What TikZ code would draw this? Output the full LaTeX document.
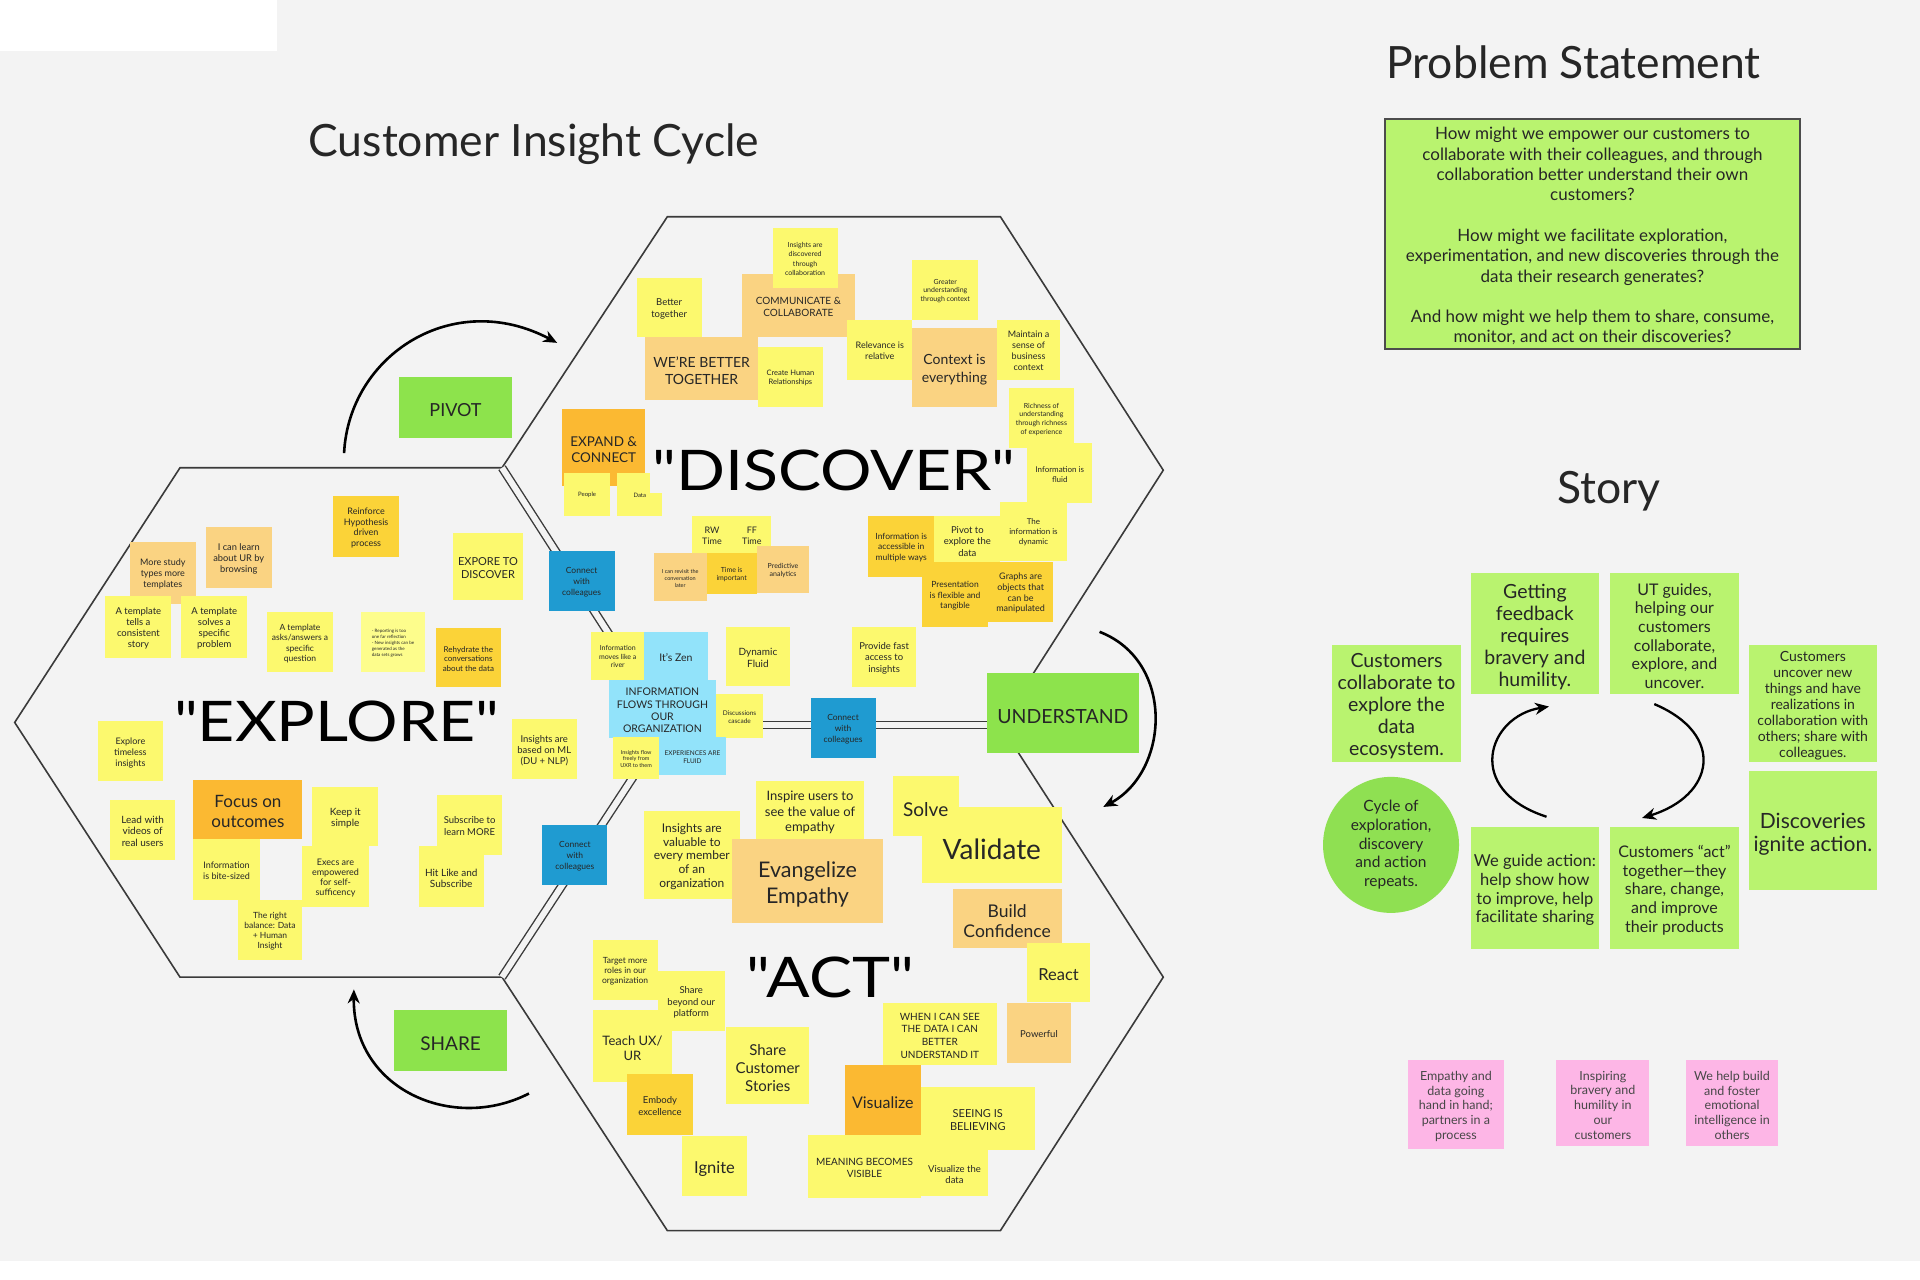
\documentclass[tikz,border=0pt]{standalone}
\usepackage{fontspec}
\usepackage{graphicx}
\setmainfont{Lato}
\newfontfamily\plainlato{Lato}
\usetikzlibrary{arrows.meta,fit}
\definecolor{bg}{HTML}{F3F3F3}
\definecolor{ink}{HTML}{262626}
\definecolor{hexc}{HTML}{3A3A3A}
\definecolor{cY}{HTML}{FCF96E}
\definecolor{cLY}{HTML}{FDFD8C}
\definecolor{cP}{HTML}{FAD382}
\definecolor{cA}{HTML}{FBD338}
\definecolor{cO}{HTML}{FBB932}
\definecolor{cB}{HTML}{1F9BD1}
\definecolor{cC}{HTML}{92E3FA}
\definecolor{cG}{HTML}{8DE34C}
\definecolor{cL}{HTML}{B9F36F}
\definecolor{cCirc}{HTML}{8FE052}
\definecolor{cK}{HTML}{FDB6E6}
\def\curfs{10}
\newcommand{\snote}[7]{\node[nt,#6,fit={(#2,#3) (#4,#5)}] (#1) {};
  \node[nt,#6,fill=none,yshift={-0.15*\curfs*1pt}] (#1t) at (#1.center) {#7};}
\begin{document}
\begin{tikzpicture}[x=1.2245pt,y=-1.2245pt,
  nt/.style={inner sep=0pt,outer sep=0pt,align=center,text=ink},
  fz/.style 2 args={font=\fontsize{#1}{#2}\selectfont,/utils/exec={\def\curfs{#1}}},
  nY/.style={fill=cY}, nLY/.style={fill=cLY}, nP/.style={fill=cP},
  nA/.style={fill=cA}, nO/.style={fill=cO}, nB/.style={fill=cB},
  nC/.style={fill=cC}, nG/.style={fill=cG}, nL/.style={fill=cL},
  nK/.style={fill=cK,text=ink!85},
  hexline/.style={draw=hexc,line width=1.6pt,line join=miter},
  hexdouble/.style={draw=hexc,line width=1.4pt,double=bg,double distance=6pt},
  arr/.style={draw=black,line width=2.6pt,-{Stealth[length=14pt,width=12pt]}},
  title/.style={text=ink,font=\plainlato\fontsize{44.5}{50}\selectfont,inner sep=0pt},
  bigword/.style={text=black,fill=bg,inner sep=2pt,font=\plainlato\fontsize{56}{60}\selectfont}]
\useasboundingbox (0,0) rectangle (1568,1045);
\fill[bg] (0,0) rectangle (1568,1045);
\fill[white] (0,0) rectangle (226,42);
\fill[white] (0,1030) rectangle (1568,1045);

% hexagon corners
\coordinate (eL) at (12,590);
\coordinate (eTL) at (147,382);
\coordinate (eTR) at (410,382);
\coordinate (eR) at (545,592);
\coordinate (eBR) at (410,798);
\coordinate (eBL) at (147,798);
\coordinate (dTL) at (545,177);
\coordinate (dTR) at (817,177);
\coordinate (dR) at (950,384);
\coordinate (dBR) at (817,592);
\coordinate (aR) at (950,798);
\coordinate (aBR) at (817,1005);
\coordinate (aBL) at (545,1005);

\draw[hexline] (eTR) -- (eTL) -- (eL) -- (eBL) -- (eBR);
\draw[hexline] (eTR) -- (dTL) -- (dTR) -- (dR) -- (dBR);
\draw[hexline] (dBR) -- (aR) -- (aBR) -- (aBL) -- (eBR);
\draw[hexdouble] (eTR) -- (eR);
\draw[hexdouble] (eR) -- (dBR);
\draw[hexdouble] (eR) -- (eBR);

% titles
\node[title] (t1) at (436,118) {Customer Insight Cycle};
\node[title] (t2) at (1285,51) {Problem Statement};
\node[title] (t3) at (1314,401) {Story};

% cycle arrows
\coordinate (pivS) at (281,370);
\coordinate (pivE) at (455,280);
\coordinate (undS) at (898,516);
\coordinate (undE) at (901,659);
\coordinate (shS) at (432,893);
\coordinate (shE) at (289,808);
\draw[arr] (pivS) .. controls (285,290) and (370,235) .. (pivE);
\draw[arr] (undS) .. controls (960,540) and (955,630) .. (undE);
\draw[arr] (shS) .. controls (370,925) and (288,890) .. (shE);

% green labels
\snote{gPivot}{326}{308}{418}{358}{nG,fz={18}{20}}{PIVOT}
\snote{gShare}{322}{825}{414}{875}{nG,fz={19}{21}}{SHARE}
\snote{gUnd}{806}{550}{930}{615}{nG,fz={19.5}{22}}{UNDERSTAND}

% DISCOVER notes
\snote{n02}{520}{227}{573}{275}{nY,fz={9.5}{11.5}}{Better\\together}
\snote{n03}{606}{224}{698}{275}{nP,fz={10}{12.5}}{COMMUNICATE \&\\COLLABORATE}
\snote{n01}{631}{186}{684}{235}{nY,fz={7}{9.3}}{Insights are\\discovered\\through\\collaboration}
\snote{n04}{745}{212}{799}{261}{nY,fz={7}{8.5}}{Greater\\understanding\\through context}
\snote{n05}{527}{275}{619}{327}{nP,fz={14}{17}}{WE'RE BETTER\\TOGETHER}
\snote{n06}{619}{283}{672}{332}{nY,fz={7.5}{9}}{Create Human\\Relationships}
\snote{n07}{692}{261}{745}{310}{nY,fz={9}{10.5}}{Relevance is\\relative}
\snote{n08}{745}{268}{814}{332}{nP,fz={14}{17.5}}{Context is\\everything}
\snote{n09}{814}{261}{866}{310}{nY,fz={9}{11}}{Maintain a\\sense of\\business\\context}
\snote{n10}{824}{317}{877}{366}{nY,fz={7}{8.7}}{Richness of\\understanding\\through richness\\of experience}
\snote{n11}{839}{362}{892}{411}{nY,fz={8}{10}}{Information is\\fluid}
\snote{n12}{459}{334}{527}{397}{nO,fz={13.5}{16}}{EXPAND \&\\CONNECT}
\snote{n13}{461}{386}{498}{421}{nY,fz={6}{7}}{People}
\snote{n14}{504}{386}{541}{421}{nY,fz={6}{7}}{Data}
\snote{n15}{565}{421}{598}{452}{nY,fz={9}{11}}{RW\\Time}
\snote{n16}{598}{421}{630}{452}{nY,fz={9}{11}}{FF\\Time}
\snote{n17}{534}{452}{577}{491}{nP,fz={5.5}{7}}{I can revisit the\\conversation\\later}
\snote{n19}{618}{446}{661}{484}{nP,fz={7}{8.5}}{Predictive\\analytics}
\snote{n18}{577}{452}{618}{485}{nA,fz={7}{8.5}}{Time is\\important}
\snote{n20}{448}{450}{502}{499}{nB,fz={8.5}{11}}{Connect\\with\\colleagues}
\snote{n21}{709}{421}{763}{471}{nA,fz={8.5}{10.5}}{Information is\\accessible in\\multiple ways}
\snote{n22}{763}{421}{817}{461}{nY,fz={9.5}{11.3}}{Pivot to\\explore the\\data}
\snote{n23}{817}{410}{871}{458}{nY,fz={8}{10}}{The\\information is\\dynamic}
\snote{n24}{753}{459}{807}{512}{nA,fz={8.5}{10.3}}{Presentation\\is flexible and\\tangible}
\snote{n25}{807}{459}{860}{508}{nA,fz={9}{10.7}}{Graphs are\\objects that\\can be\\manipulated}
\snote{n26}{696}{512}{748}{561}{nY,fz={9.5}{11.5}}{Provide fast\\access to\\insights}
\snote{n27}{593}{512}{645}{560}{nY,fz={10}{11.5}}{Dynamic\\Fluid}
\snote{n28}{483}{516}{526}{555}{nY,fz={7}{8.5}}{Information\\moves like a\\river}
\snote{n29}{526}{516}{578}{555}{nC,fz={10.5}{12}}{It's Zen}
\snote{n30}{497}{555}{585}{603}{nC,fz={10.5}{12.3}}{INFORMATION\\FLOWS THROUGH\\OUR\\ORGANIZATION}
\snote{n31}{585}{567}{623}{603}{nY,fz={6.5}{8}}{Discussions\\cascade}
\snote{n32}{538}{602}{593}{633}{nC,fz={6.5}{8.5}}{EXPERIENCES ARE\\FLUID}
\snote{n33}{501}{602}{538}{636}{nY,fz={5.5}{6.5}}{Insights flow\\freely from\\UXR to them}
\snote{n34}{662}{570}{715}{619}{nB,fz={8.5}{11}}{Connect\\with\\colleagues}

% EXPLORE notes
\snote{e01}{272}{405}{326}{455}{nA,fz={9}{10.7}}{Reinforce\\Hypothesis\\driven\\process}
\snote{e02}{106}{443}{160}{493}{nP,fz={9}{11}}{More study\\types more\\templates}
\snote{e03}{168}{430}{222}{480}{nP,fz={9.3}{11}}{I can learn\\about UR by\\browsing}
\snote{e04}{370}{435}{427}{490}{nY,fz={11}{13}}{EXPORE TO\\DISCOVER}
\snote{e05}{86}{487}{140}{537}{nY,fz={9.5}{11}}{A template\\tells a\\consistent\\story}
\snote{e06}{148}{487}{202}{537}{nY,fz={9.5}{11}}{A template\\solves a\\specific\\problem}
\snote{e07}{218}{500}{272}{549}{nY,fz={8.5}{10.5}}{A template\\asks/answers a\\specific\\question}
\snote{e08}{295}{500}{347}{549}{nLY,align=left,fz={4.5}{6}}{- Reporting is too\\one far reflection\\- New insights can be\\generated as the\\data sets grows}
\snote{e09}{356}{513}{409}{561}{nA,fz={8}{9.5}}{Rehydrate the\\conversations\\about the data}
\snote{e10}{418}{587}{471}{636}{nY,fz={9.5}{11}}{Insights are\\based on ML\\(DU + NLP)}
\snote{e11}{80}{589}{133}{638}{nY,fz={9}{11}}{Explore\\timeless\\insights}
\snote{e12}{158}{637}{247}{685}{nO,fz={17}{20}}{Focus on\\outcomes}
\snote{e13}{255}{643}{309}{691}{nY,fz={10}{11}}{Keep it\\simple}
\snote{e14}{90}{653}{143}{702}{nY,fz={10}{11.5}}{Lead with\\videos of\\real users}
\snote{e15}{158}{685}{212}{735}{nY,fz={9}{11}}{Information\\is bite-sized}
\snote{e16}{247}{691}{301}{741}{nY,fz={9}{10}}{Execs are\\empowered\\for self-\\sufficency}
\snote{e17}{357}{649}{410}{698}{nY,fz={9.5}{11.5}}{Subscribe to\\learn MORE}
\snote{e18}{342}{691}{395}{741}{nY,fz={10}{11.5}}{Hit Like and\\Subscribe}
\snote{e19}{194}{735}{247}{784}{nY,fz={8.5}{10}}{The right\\balance: Data\\+ Human\\Insight}
\snote{e20}{443}{674}{496}{723}{nB,fz={8.5}{11}}{Connect\\with\\colleagues}

% ACT notes
\snote{a01}{617}{638}{706}{686}{nY,fz={13}{15.5}}{Inspire users to\\see the value of\\empathy}
\snote{a02}{526}{662}{604}{734}{nY,fz={12}{13.7}}{Insights are\\valuable to\\every member\\of an\\organization}
\snote{a03}{598}{685}{721}{754}{nP,fz={21.5}{25.5}}{Evangelize\\Empathy}
\snote{a05}{753}{659}{867}{721}{nY,fz={28}{30}}{Validate}
\snote{a04}{729}{634}{783}{683}{nY,fz={19}{22}}{Solve}
\snote{a06}{778}{726}{867}{774}{nP,fz={17.5}{20}}{Build\\Confidence}
\snote{a07}{839}{770}{890}{818}{nY,fz={16.5}{20}}{React}
\snote{a08}{484}{768}{537}{817}{nY,fz={8.5}{10}}{Target more\\roles in our\\organization}
\snote{a09}{537}{793}{592}{842}{nY,fz={9.5}{11.5}}{Share\\beyond our\\platform}
\snote{a10}{484}{825}{549}{884}{nY,fz={13}{15.5}}{Teach UX/\\UR}
\snote{a11}{593}{839}{661}{902}{nY,fz={15}{17.7}}{Share\\Customer\\Stories}
\snote{a12}{512}{877}{566}{927}{nA,fz={9.5}{12}}{Embody\\excellence}
\snote{a13}{557}{928}{610}{977}{nY,fz={16.5}{20}}{Ignite}
\snote{a14}{721}{819}{814}{870}{nY,fz={10}{12.7}}{WHEN I CAN SEE\\THE DATA I CAN\\BETTER\\UNDERSTAND IT}
\snote{a15}{822}{819}{875}{868}{nP,fz={9.5}{11}}{Powerful}
\snote{a16}{690}{870}{752}{927}{nO,fz={16}{19}}{Visualize}
\snote{a17}{752}{888}{845}{939}{nY,fz={11}{12.7}}{SEEING IS\\BELIEVING}
\snote{a18}{660}{927}{752}{978}{nY,fz={10}{12}}{MEANING BECOMES\\VISIBLE}
\snote{a19}{752}{939}{807}{977}{nY,fz={9.5}{11.3}}{Visualize the\\data}

% big words
\node[bigword] (wDisc) at (681,384) {\scalebox{1.15}[1]{"DISCOVER"}};
\node[bigword] (wExpl) at (275,589) {\scalebox{1.15}[1]{"EXPLORE"}};
\node[bigword] (wAct) at (678,798) {\scalebox{1.15}[1]{"ACT"}};

% Problem statement
\node[nt,fill=cL,draw=black!70,line width=1.5pt,fit={(1131,97) (1470,285)}] (ps) {};
\node[nt,fz={17}{20.3},yshift=-2.5pt] (pst) at (ps.center) {How might we empower our customers to\\collaborate with their colleagues, and through\\collaboration better understand their own\\customers?\\[20.3pt]How might we facilitate exploration,\\experimentation, and new discoveries through the\\data their research generates?\\[20.3pt]And how might we help them to share, consume,\\monitor, and act on their discoveries?};

% Story
\snote{s1}{1088}{527}{1193}{622}{nL,fz={19.5}{22}}{Customers\\collaborate to\\explore the\\data\\ecosystem.}
\snote{s2}{1201}{468}{1306}{567}{nL,fz={19.5}{22}}{Getting\\feedback\\requires\\bravery and\\humility.}
\snote{s3}{1315}{468}{1420}{567}{nL,fz={16}{18.7}}{UT guides,\\helping our\\customers\\collaborate,\\explore, and\\uncover.}
\snote{s4}{1428}{527}{1533}{622}{nL,fz={14}{16}}{Customers\\uncover new\\things and have\\realizations in\\collaboration with\\others; share with\\colleagues.}
\snote{s5}{1428}{630}{1533}{727}{nL,fz={21}{23}}{Discoveries\\ignite action.}
\node[nt,circle,fill=cCirc,minimum size=136pt,fz={15.5}{18.7}] (s6) at (1136,690) {Cycle of\\exploration,\\discovery\\and action\\repeats.};
\snote{s7}{1201}{675}{1306}{775}{nL,fz={16.5}{18.7}}{We guide action:\\help show how\\to improve, help\\facilitate sharing}
\snote{s8}{1315}{675}{1420}{775}{nL,fz={16}{18.7}}{Customers ``act''\\together---they\\share, change,\\and improve\\their products}
\coordinate (slS) at (1263,667);
\coordinate (slE) at (1265,577);
\coordinate (srS) at (1351,575);
\coordinate (srE) at (1341,668);
\draw[arr,line width=2.3pt] (slS) .. controls (1195,645) and (1215,585) .. (slE);
\draw[arr,line width=2.3pt] (srS) .. controls (1410,600) and (1400,650) .. (srE);

% pink notes
\snote{k1}{1150}{866}{1228}{938}{nK,fz={12.5}{14.7}}{Empathy and\\data going\\hand in hand;\\partners in a\\process}
\snote{k2}{1271}{866}{1347}{936}{nK,fz={12.5}{14.7}}{Inspiring\\bravery and\\humility in\\our\\customers}
\snote{k3}{1377}{866}{1452}{936}{nK,fz={12.5}{14.7}}{We help build\\and foster\\emotional\\intelligence in\\others}
\end{tikzpicture}
\end{document}
